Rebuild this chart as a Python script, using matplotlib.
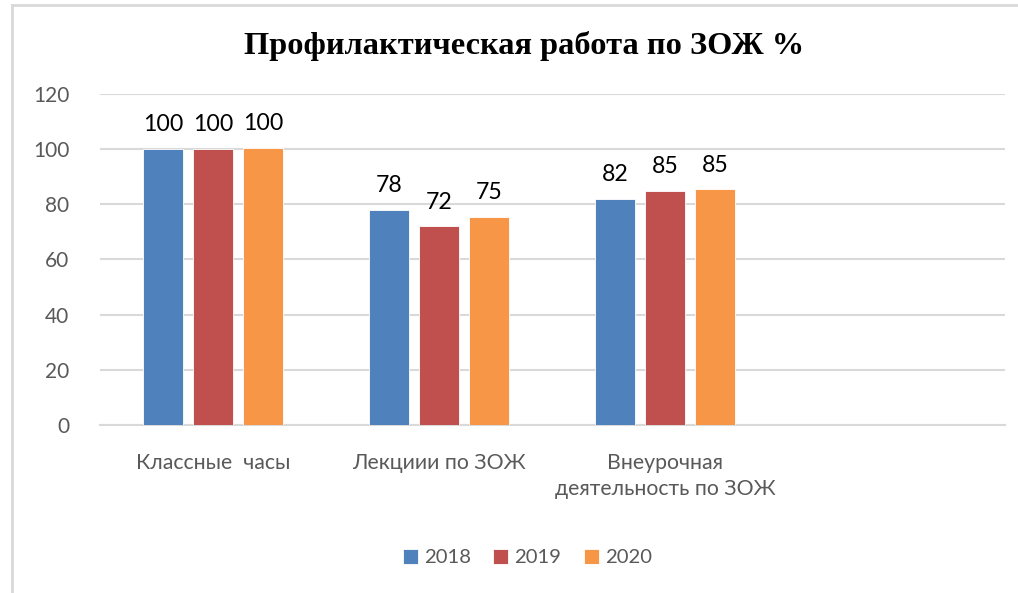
import numpy as np
import matplotlib.pyplot as plt
from matplotlib.lines import Line2D

# данные
categories = ['Классные  часы', 'Лекциии по ЗОЖ', 'Внеурочная\nдеятельность по ЗОЖ', '']
years = ['2018', '2019', '2020']
v2018 = [100, 78, 82]
v2019 = [100, 72, 85]
v2020 = [100.4, 75.4, 85.4]
colors = ['#4F81BD', '#C0504D', '#F79646']

plt.rcParams['font.family'] = ['Lato', 'DejaVu Sans']

fig = plt.figure(figsize=(10.18, 5.93), dpi=100)
ax = fig.add_axes([0.0982, 0.2833, 0.8888, 0.5582])

x = np.arange(len(v2018))
w = 0.177
step = 0.221
series = [v2018, v2019, v2020]
for i, (vals, yr, c) in enumerate(zip(series, years, colors)):
    bars = ax.bar(x + (i - 1) * step, vals, w, color=c, label=yr,
                  edgecolor='white', linewidth=0.6, zorder=3)
    ax.bar_label(bars, fmt='%.0f', padding=10, fontsize=16.7, color='black')

ax.set_xlim(-0.5, 3.5)
ax.set_ylim(0, 120)
ax.set_yticks(range(0, 121, 20))
ax.set_xticks(range(len(categories)))
ax.set_xticklabels(categories, fontsize=15.3, color='#595959', linespacing=1.4)
ax.tick_params(axis='y', labelsize=15, labelcolor='#595959', length=0, pad=22)
ax.tick_params(axis='x', length=0, pad=20)
ax.grid(axis='y', color='#d9d9d9', linewidth=1.5, zorder=0)
for s in ['top', 'right', 'left']:
    ax.spines[s].set_visible(False)
ax.spines['bottom'].set_color('#d9d9d9')
ax.spines['bottom'].set_linewidth(1.5)

fig.text(0.515, 0.923, 'Профилактическая работа по ЗОЖ %', ha='center', va='center',
         fontsize=23.3, fontweight='bold', family='Liberation Serif')

fig.legend(loc='center', bbox_to_anchor=(0.518, 0.06), ncol=3, frameon=False,
           fontsize=14.6, labelcolor='#595959', handlelength=0.75, handleheight=0.75,
           handletextpad=0.3, columnspacing=1.1)

# рамка
fig.add_artist(Line2D([12 / 1018, 12 / 1018], [0, 1 - 5 / 593], color='#d9d9d9', lw=2))
fig.add_artist(Line2D([12 / 1018, 1], [1 - 5 / 593, 1 - 5 / 593], color='#d9d9d9', lw=2))

fig.savefig('out.png')
